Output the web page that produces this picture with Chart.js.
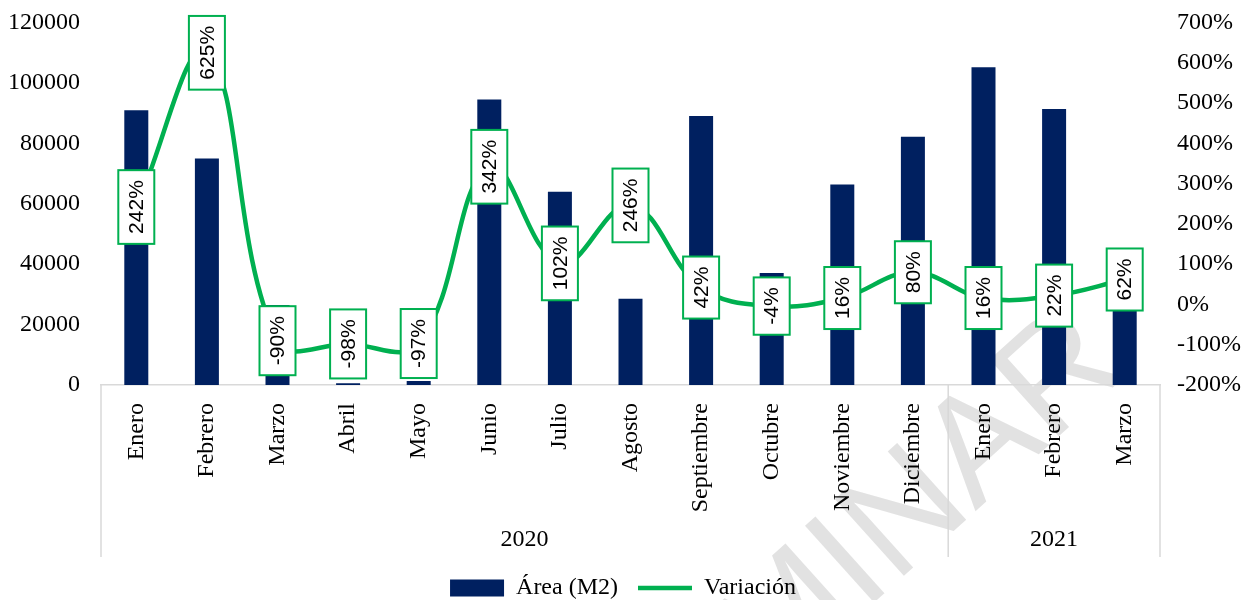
<!DOCTYPE html>
<html>
<head>
<meta charset="utf-8">
<script src="https://cdn.jsdelivr.net/npm/chart.js@4"></script>
<style>
  html, body { margin: 0; padding: 0; background: #fff; }
  canvas { display: block; }
</style>
</head>
<body>
<canvas id="grafico" width="1246" height="600"></canvas>
<script>
// datos
const meses = ['Enero','Febrero','Marzo','Abril','Mayo','Junio','Julio','Agosto','Septiembre','Octubre','Noviembre','Diciembre','Enero','Febrero','Marzo'];
const anios = ['2020','2020','2020','2020','2020','2020','2020','2020','2020','2020','2020','2020','2021','2021','2021'];
const area = [91000, 75000, 26500, 600, 1300, 94500, 64000, 28600, 89100, 37100, 66400, 82200, 105200, 91400, 43000];
const variacion = [242, 625, -90, -98, -97, 342, 102, 246, 42, -4, 16, 80, 16, 22, 62];

const AZUL = '#002060';
const VERDE = '#00B050';
const GRIS = '#d9d9d9';
const SERIF = '"Liberation Serif", "Times New Roman", serif';

Chart.defaults.font.family = SERIF;
Chart.defaults.font.size = 24;
Chart.defaults.color = '#000';

// marca de agua de fondo
const marcaAgua = {
    id: 'marcaAgua',
    beforeDraw(chart) {
        const ctx = chart.ctx;
        ctx.save();
        ctx.translate(1130, 372);
        ctx.rotate(-42 * Math.PI / 180);
        ctx.font = '150px "Liberation Sans Narrow", "Liberation Sans", sans-serif';
        ctx.fillStyle = 'rgba(190,190,190,0.45)';
        ctx.textAlign = 'right';
        ctx.textBaseline = 'alphabetic';
        ctx.fillText('PRELIMINAR', 0, 0);
        ctx.restore();
    }
};

// etiquetas de la variación (caja blanca con borde verde, texto vertical)
const etiquetas = {
    id: 'etiquetas',
    afterDatasetsDraw(chart) {
        const ctx = chart.ctx;
        const meta = chart.getDatasetMeta(1);
        ctx.save();
        ctx.font = '21px "Liberation Sans", Arial, sans-serif';
        meta.data.forEach((pt, i) => {
            const txt = variacion[i] + '%';
            const w = ctx.measureText(txt).width + 20;
            const h = 36;
            ctx.save();
            ctx.translate(pt.x, pt.y);
            ctx.rotate(-Math.PI / 2);
            ctx.fillStyle = '#fff';
            ctx.fillRect(-w / 2, -h / 2, w, h);
            ctx.strokeStyle = VERDE;
            ctx.lineWidth = 2;
            ctx.strokeRect(-w / 2, -h / 2, w, h);
            ctx.fillStyle = '#000';
            ctx.textAlign = 'center';
            ctx.textBaseline = 'middle';
            ctx.fillText(txt, 0, 1);
            ctx.restore();
        });
        ctx.restore();
    }
};

// segundo nivel del eje x: años y separadores
const grupos = {
    id: 'grupos',
    afterDraw(chart) {
        const ctx = chart.ctx;
        const x = chart.scales.x;
        const ca = chart.chartArea;
        const fondo = ca.bottom + 172;
        const cortes = [ca.left];
        const nombres = [];
        let ini = 0;
        for (let i = 1; i <= anios.length; i++) {
            if (i === anios.length || anios[i] !== anios[i - 1]) {
                nombres.push(anios[ini]);
                if (i < anios.length) cortes.push((x.getPixelForValue(i - 1) + x.getPixelForValue(i)) / 2);
                ini = i;
            }
        }
        cortes.push(ca.right);
        ctx.save();
        ctx.strokeStyle = GRIS;
        ctx.lineWidth = 1.5;
        cortes.forEach(c => {
            ctx.beginPath();
            ctx.moveTo(c, ca.bottom);
            ctx.lineTo(c, fondo);
            ctx.stroke();
        });
        ctx.fillStyle = '#000';
        ctx.font = '24px ' + SERIF;
        ctx.textAlign = 'center';
        ctx.textBaseline = 'middle';
        nombres.forEach((txt, k) => {
            ctx.fillText(txt, (cortes[k] + cortes[k + 1]) / 2, ca.bottom + 155);
        });
        ctx.restore();
    }
};

new Chart(document.getElementById('grafico'), {
    data: {
        labels: meses,
        datasets: [
            {
                type: 'bar',
                label: 'Área (M2)',
                data: area,
                backgroundColor: AZUL,
                borderColor: AZUL,
                borderWidth: 0,
                barPercentage: 0.34,
                categoryPercentage: 1,
                pointStyle: 'rect',
                yAxisID: 'y',
                order: 1
            },
            {
                type: 'line',
                label: 'Variación',
                data: variacion,
                borderColor: VERDE,
                backgroundColor: VERDE,
                borderWidth: 4.5,
                tension: 0.4,
                pointRadius: 0,
                pointStyle: 'line',
                yAxisID: 'y2',
                clip: false,
                order: 0
            }
        ]
    },
    options: {
        responsive: false,
        animation: false,
        devicePixelRatio: 1,
        layout: { padding: { top: 20, left: 0, right: 0, bottom: -10 } },
        scales: {
            x: {
                offset: true,
                grid: { display: false },
                border: { display: true, color: GRIS, width: 1.5 },
                ticks: { minRotation: 90, maxRotation: 90, padding: 10, autoSkip: false },
                afterFit(scale) {
                    const lh = scale.chart.legend ? scale.chart.legend.height : 0;
                    scale.height = 225 - lh;
                }
            },
            y: {
                position: 'left',
                min: 0,
                max: 120000,
                grid: { display: false },
                border: { display: false },
                ticks: { stepSize: 20000, padding: 13, font: { lineHeight: 0.8 }, callback: v => String(v) },
                afterFit(scale) { scale.width = 101; }
            },
            y2: {
                position: 'right',
                min: -200,
                max: 700,
                grid: { display: false },
                border: { display: false },
                ticks: { stepSize: 100, padding: 9, font: { lineHeight: 0.8 }, callback: v => v + '%' },
                afterFit(scale) { scale.width = 86; }
            }
        },
        plugins: {
            tooltip: { enabled: false },
            legend: {
                position: 'bottom',
                labels: {
                    usePointStyle: true,
                    pointStyleWidth: 54,
                    boxHeight: 17,
                    padding: 20,
                    font: { size: 24, family: SERIF },
                    color: '#000',
                    sort: (a, b) => a.datasetIndex - b.datasetIndex
                }
            }
        }
    },
    plugins: [marcaAgua, etiquetas, grupos]
});
</script>
</body>
</html>
